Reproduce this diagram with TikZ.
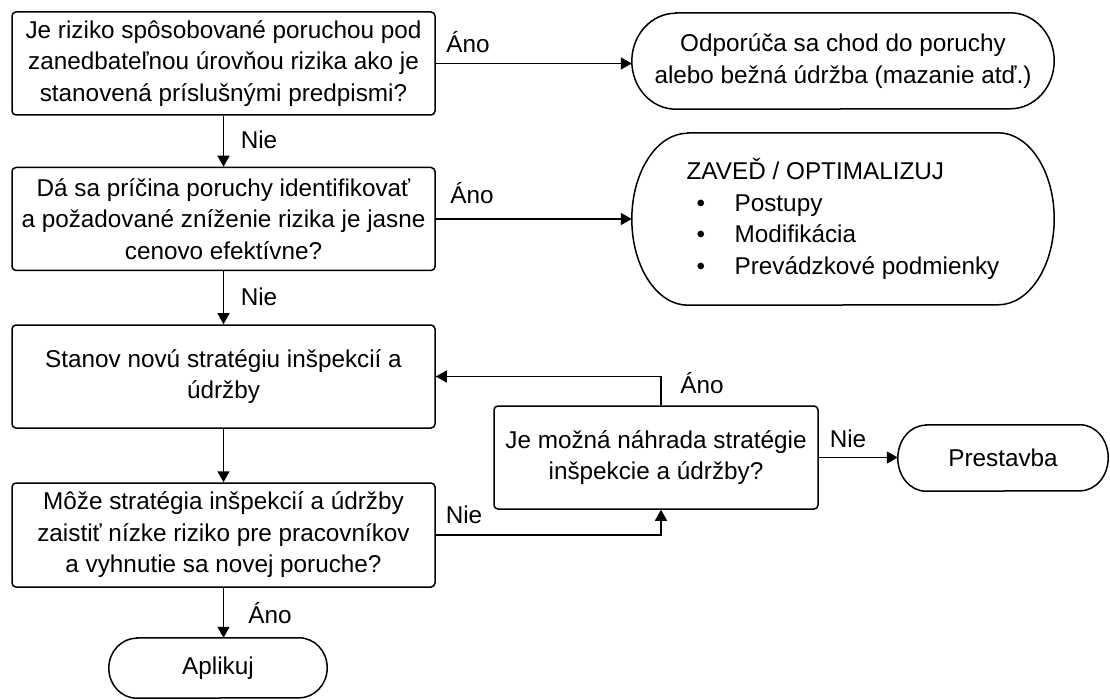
\documentclass[tikz,border=0pt]{standalone}
\usepackage{fontspec}
\setmainfont{Liberation Sans}
\usetikzlibrary{arrows.meta}
\newcommand\termline[3]{%
  \draw[line width=1.5pt] ([xshift=#2pt]#1.north west) -- ([xshift=-#2pt]#1.north east)
    arc[start angle=90,end angle=-90,x radius=#2pt,y radius=#3pt]
    -- ([xshift=#2pt]#1.south west)
    arc[start angle=270,end angle=90,x radius=#2pt,y radius=#3pt] -- cycle;}
\begin{document}
\begin{tikzpicture}[x=1pt,y=-1pt,
  every node/.style={font=\fontsize{24.3}{31.5}\selectfont, inner sep=0pt},
  box/.style={draw, line width=1.5pt, rounded corners=4pt, align=center,
    minimum width=423pt, minimum height=103pt},
  term/.style={align=center},
  conn/.style={line width=1.5pt, -{Triangle[length=11pt,width=12pt]}}]
\useasboundingbox (0,0) rectangle (1110,700);

\node[box] (b1) at (223.5,63.5) {Je riziko spôsobované poruchou pod\\zanedbateľnou úrovňou rizika ako je\\stanovená príslušnými predpismi?};
\node[box] (b2) at (223.5,219) {Dá sa príčina poruchy identifikovať\\a požadované zníženie rizika je jasne\\cenovo efektívne?};
\node[box] (b3) at (223.5,376.5) {Stanov novú stratégiu inšpekcií a\\údržby};
\node[box, minimum height=104pt] (b4) at (223.5,535) {Môže stratégia inšpekcií a údržby\\zaistiť nízke riziko pre pracovníkov\\a vyhnutie sa novej poruche?};
\node[box, minimum width=324pt] (q5) at (656,457.5) {Je možná náhrada stratégie\\inšpekcie a údržby?};

\node[term, minimum width=422pt, minimum height=96pt] (t1) at (843,61) {Odporúča sa chod do poruchy\\alebo bežná údržba (mazanie atď.)};
\node[term, align=left, minimum width=422pt, minimum height=172pt] (t2) at (843,219)
  {ZAVEĎ / OPTIMALIZUJ\\
   \hspace*{10pt}\makebox[38pt][l]{•}Postupy\\
   \hspace*{10pt}\makebox[38pt][l]{•}Modifikácia\\
   \hspace*{10pt}\makebox[38pt][l]{•}Prevádzkové podmienky};
\node[term, minimum width=210pt, minimum height=66pt] (pr) at (1003,458) {Prestavba};
\node[term, minimum width=218pt, minimum height=60pt] (ap) at (218,668) {Aplikuj};

\termline{t1}{44}{48}
\termline{t2}{56}{86}
\termline{pr}{28}{33}
\termline{ap}{28}{30}

\draw[conn] (b1.south) -- (b2.north);
\draw[conn] (b2.south) -- (b3.north);
\draw[conn] (b3.south) -- (b4.north);
\draw[conn] (b4.south) -- (b4.south |- ap.north);
\draw[conn] (b1.east) -- (b1.east -| t1.west);
\draw[conn] (b2.east) -- (t2.west);
\draw[conn] ([xshift=5pt]q5.north) |- (b3.east);
\draw[conn] (b4.east) -| ([xshift=5pt]q5.south);
\draw[conn] (q5.east) -- (q5.east -| pr.west);

\node (l1) at (468,42) {Áno};
\node (l2) at (259,140) {Nie};
\node (l3) at (472,193) {Áno};
\node (l4) at (259,297) {Nie};
\node (l5) at (702,383) {Áno};
\node (l6) at (464,515) {Nie};
\node (l7) at (848,439) {Nie};
\node (l8) at (270,613) {Áno};
\end{tikzpicture}
\end{document}
